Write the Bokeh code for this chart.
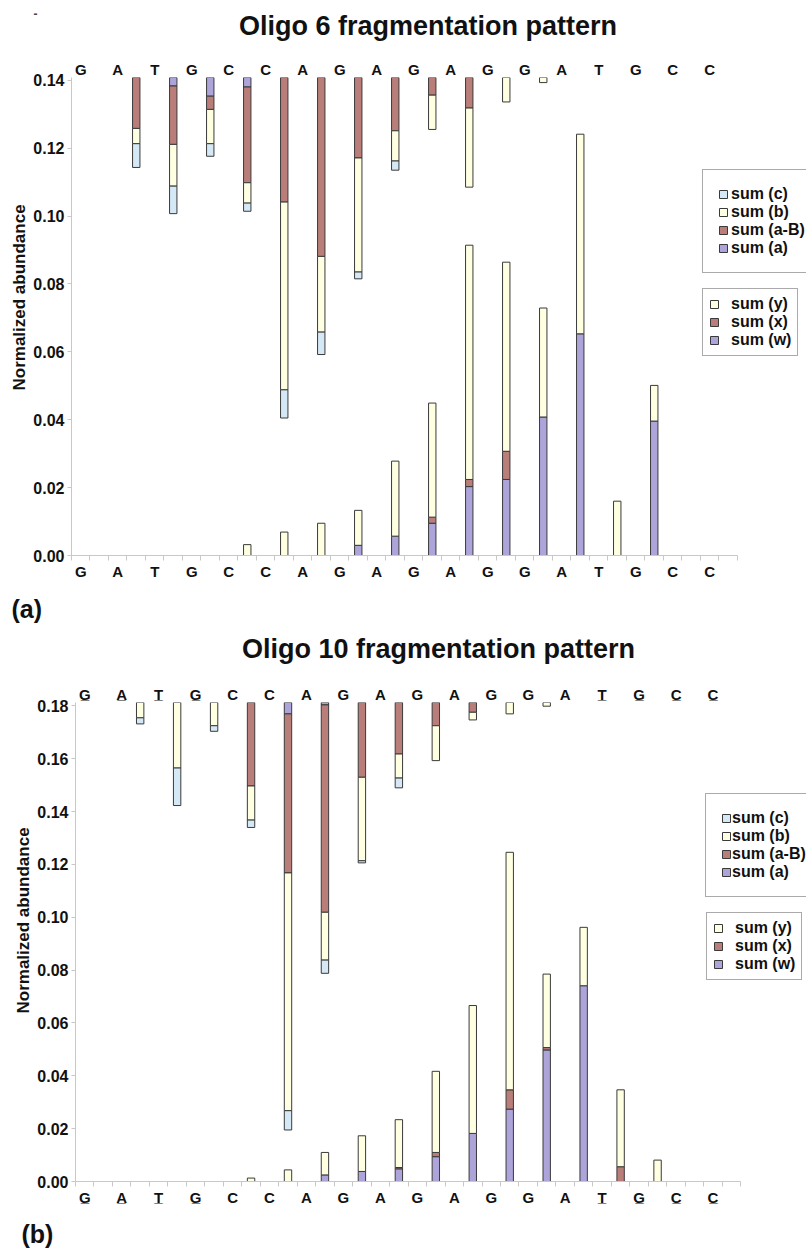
from bokeh.plotting import figure
from bokeh.layouts import column
from bokeh.models import (ColumnDataSource, Range1d, LinearAxis, FixedTicker,
                          NumeralTickFormatter, Legend, LegendItem, Label, Title)
from bokeh.embed import file_html
from bokeh.resources import INLINE

FONT = "Liberation Sans"

# ---------------- data ----------------
sequence = ["G", "A", "T", "G", "C", "C", "A", "G", "A", "G", "A", "G", "G", "A", "T", "G", "C", "C"]
underlined_10 = [0, 1, 2, 3, 14, 15, 16, 17]

# cleavage sites (between nucleotide i and i+1)
abc_sites = [1, 2, 3, 4, 5, 6, 7, 8, 9, 10, 11, 12]
wxy_sites = [4, 5, 6, 7, 8, 9, 10, 11, 12, 13, 14, 15]

# Oligo 6 : a / a-B / b / c ions hang down from the top of the axis
top_6 = 0.1408
a_6 = [0, 0.0025, 0.0055, 0.0028, 0, 0, 0, 0, 0, 0, 0, 0]
aB_6 = [0.0150, 0.0172, 0.0039, 0.0282, 0.0367, 0.0527, 0.0237, 0.0157, 0.0052, 0.0090, 0, 0]
b_6 = [0.0045, 0.0123, 0.0101, 0.0060, 0.0553, 0.0223, 0.0336, 0.0089, 0.0101, 0.0233, 0.0072, 0.0015]
c_6 = [0.0070, 0.0081, 0.0037, 0.0024, 0.0083, 0.0066, 0.0020, 0.0027, 0, 0, 0, 0]
# Oligo 6 : w / x / y ions stacked from zero
w_6 = [0, 0, 0, 0.0030, 0.0057, 0.0095, 0.0203, 0.0224, 0.0408, 0.0653, 0, 0.0396]
x_6 = [0, 0, 0, 0, 0, 0.0018, 0.0021, 0.0083, 0, 0, 0, 0]
y_6 = [0.0032, 0.0069, 0.0095, 0.0103, 0.0221, 0.0336, 0.0690, 0.0557, 0.0321, 0.0588, 0.0160, 0.0105]
yticks_6 = [0.00, 0.02, 0.04, 0.06, 0.08, 0.10, 0.12, 0.14]

# Oligo 10
top_10 = 0.1813
a_10 = [0, 0, 0, 0, 0.0043, 0.0009, 0, 0, 0, 0, 0, 0]
aB_10 = [0, 0, 0, 0.0316, 0.0602, 0.0785, 0.0283, 0.0195, 0.0088, 0.0037, 0, 0]
b_10 = [0.0058, 0.0248, 0.0088, 0.0129, 0.0900, 0.0181, 0.0316, 0.0091, 0.0132, 0.0029, 0.0043, 0.0014]
c_10 = [0.0023, 0.0142, 0.0021, 0.0028, 0.0073, 0.0050, 0.0008, 0.0037, 0, 0, 0, 0]
w_10 = [0, 0, 0.0025, 0.0038, 0.0048, 0.0094, 0.0182, 0.0274, 0.0498, 0.0741, 0, 0]
x_10 = [0, 0, 0, 0, 0.0005, 0.0016, 0, 0.0073, 0.0009, 0, 0.0056, 0]
y_10 = [0.0013, 0.0044, 0.0085, 0.0135, 0.0181, 0.0307, 0.0484, 0.0899, 0.0278, 0.0221, 0.0291, 0.0081]
yticks_10 = [0.00, 0.02, 0.04, 0.06, 0.08, 0.10, 0.12, 0.14, 0.16, 0.18]

titles = ["Oligo 6 fragmentation pattern", "Oligo 10 fragmentation pattern"]
panel_labels = ["(a)", "(b)"]
y_title = "Normalized abundance"

COL_C = "#D5E8F6"
COL_B = "#FFFFE2"
COL_AB = "#B97E79"
COL_A = "#ADA4D9"
OUTLINE = "#3A3A3A"
AXIS_GRAY = "#C8C8C8"
TXT = "#111111"


def seg_source(sites, vals, bottoms):
    xs, tops, bots = [], [], []
    for s, v, b0 in zip(sites, vals, bottoms):
        if v > 0:
            xs.append(s + 0.5)
            bots.append(b0)
            tops.append(b0 + v)
    return ColumnDataSource(dict(x=xs, top=tops, bottom=bots))


def strip(height, labels):
    f = figure(width=806, height=height, output_backend="svg", toolbar_location=None,
               x_axis_type=None, y_axis_type=None, min_border=0, frame_align=False,
               x_range=Range1d(0, 806), y_range=Range1d(0, height))
    f.outline_line_color = None
    f.xgrid.visible = False
    f.ygrid.visible = False
    for text, x, y, size, align, color in labels:
        f.add_layout(Label(x=x, y=y, x_units="screen", y_units="screen", text=text,
                           text_align=align, text_baseline="alphabetic", text_font=FONT,
                           text_font_size=size, text_font_style="bold", text_color=color))
    return f


def chart(height, top, a, aB, b, c, w, x, y, yticks, under, borders, x_end,
          leg1, leg2, ylab_offset, std1):
    bl, bt, bb = borders
    p = figure(width=806, height=height, output_backend="svg", toolbar_location=None,
               x_range=Range1d(-0.25, x_end), y_range=Range1d(0, top),
               min_border_left=bl, min_border_right=0, min_border_top=bt,
               min_border_bottom=bb, frame_align=False)
    p.outline_line_color = None
    p.xgrid.visible = False
    p.ygrid.visible = False

    renderers = {}
    level = [top] * len(abc_sites)
    for name, vals, col in [("a", a, COL_A), ("a-B", aB, COL_AB), ("b", b, COL_B), ("c", c, COL_C)]:
        level = [lv - v for lv, v in zip(level, vals)]
        src = seg_source(abc_sites, vals, level)
        renderers[name] = p.vbar(x="x", top="top", bottom="bottom", width=0.2, source=src,
                                 fill_color=col, line_color=OUTLINE, line_width=1)
    level = [0.0] * len(wxy_sites)
    for name, vals, col in [("w", w, COL_A), ("x", x, COL_AB), ("y", y, COL_B)]:
        src = seg_source(wxy_sites, vals, level)
        level = [lv + v for lv, v in zip(level, vals)]
        renderers[name] = p.vbar(x="x", top="top", bottom="bottom", width=0.2, source=src,
                                 fill_color=col, line_color=OUTLINE, line_width=1)

    n = len(sequence)
    letters = {i: ((s + "\u0332") if i in under else s) for i, s in enumerate(sequence)}

    xa = p.xaxis[0]
    xa.bounds = (-0.25, n - 0.25)
    xa.ticker = FixedTicker(ticks=list(range(n)),
                            minor_ticks=[-0.25 + 0.5 * k for k in range(2 * n + 1)])
    xa.major_label_overrides = letters
    xa.major_tick_line_color = None
    xa.major_tick_out = 0
    xa.major_tick_in = 0
    xa.minor_tick_out = 5
    xa.minor_tick_in = 0
    xa.minor_tick_line_color = AXIS_GRAY
    xa.axis_line_color = AXIS_GRAY
    xa.major_label_standoff = 2
    xa.major_label_text_font = FONT
    xa.major_label_text_font_size = "15px"
    xa.major_label_text_font_style = "bold"
    xa.major_label_text_color = TXT

    ta = LinearAxis(ticker=FixedTicker(ticks=list(range(n))), major_label_overrides=letters)
    ta.axis_line_color = None
    ta.major_tick_line_color = None
    ta.minor_tick_line_color = None
    ta.major_tick_out = 0
    ta.major_label_standoff = 0
    ta.major_label_text_font = FONT
    ta.major_label_text_font_size = "15px"
    ta.major_label_text_font_style = "bold"
    ta.major_label_text_color = TXT
    p.add_layout(ta, "above")

    ya = p.yaxis[0]
    ya.ticker = FixedTicker(ticks=yticks, minor_ticks=[])
    ya.formatter = NumeralTickFormatter(format="0.00")
    ya.axis_line_color = AXIS_GRAY
    ya.major_tick_line_color = AXIS_GRAY
    ya.major_tick_out = 4
    ya.major_tick_in = 0
    ya.minor_tick_line_color = None
    ya.major_label_standoff = 3
    ya.major_label_text_font = FONT
    ya.major_label_text_font_size = "16px"
    ya.major_label_text_font_style = "bold"
    ya.major_label_text_color = TXT

    p.add_layout(Title(text=y_title, align="left", offset=ylab_offset, standoff=4,
                       text_font=FONT, text_font_size="17px", text_font_style="bold",
                       text_color=TXT), "left")

    common = dict(spacing=0, label_height=18, glyph_height=10, glyph_width=10,
                  label_text_font=FONT, label_text_font_size="16px",
                  label_text_font_style="bold", label_text_color=TXT,
                  border_line_color="#555555", border_line_width=1.5,
                  background_fill_color="white", background_fill_alpha=1.0, margin=0)
    l1 = Legend(items=[LegendItem(label="sum (c)", renderers=[renderers["c"]]),
                       LegendItem(label="sum (b)", renderers=[renderers["b"]]),
                       LegendItem(label="sum (a-B)", renderers=[renderers["a-B"]]),
                       LegendItem(label="sum (a)", renderers=[renderers["a"]])],
                location=leg1, padding=15, label_standoff=std1, **common)
    l2 = Legend(items=[LegendItem(label="sum (y)", renderers=[renderers["y"]]),
                       LegendItem(label="sum (x)", renderers=[renderers["x"]]),
                       LegendItem(label="sum (w)", renderers=[renderers["w"]])],
                location=leg2, padding=6, label_standoff=12, **common)
    p.add_layout(l1)
    p.add_layout(l2)
    return p


s_top = strip(50, [(titles[0], 427.5, 24.5, "27px", "center", TXT),
                   ("-", 33, 37, "12px", "left", "#444444")])
c_a = chart(542, top_6, a_6, aB_6, b_6, c_6, w_6, x_6, y_6, yticks_6, [],
            (71, 27, 37), 19.615, (631, 282), (631, 199), 165, 3)
s_mid = strip(88, [(panel_labels[0], 11, 71.5, "25px", "left", TXT),
                   (titles[1], 438, 31.5, "27px", "center", TXT)])
c_b = chart(535, top_10, a_10, aB_10, b_10, c_10, w_10, x_10, y_10, yticks_10, underlined_10,
            (75, 22, 34), 19.53, (630, 284), (631, 201), 168, 1)
s_bot = strip(35, [(panel_labels[1], 21, 16.5, "25px", "left", TXT)])

layout = column(s_top, c_a, s_mid, c_b, s_bot, spacing=0)
open("out.html", "w").write(file_html(layout, INLINE))
